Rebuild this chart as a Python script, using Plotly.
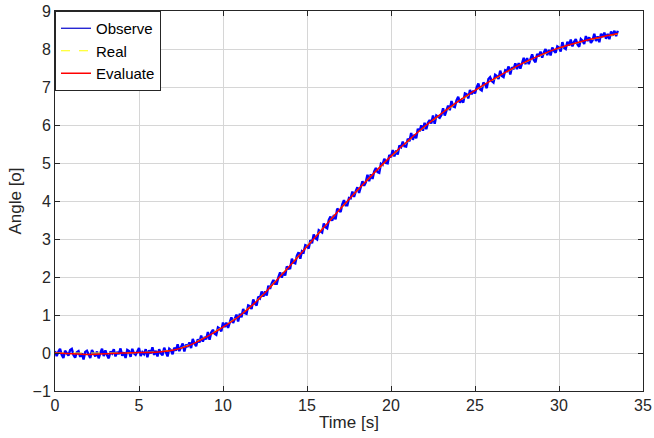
import numpy as np
import plotly.graph_objects as go

# Observed (noisy) angle, sampled every 0.1 s from 0 to 33.5 s
t_obs = np.round(np.arange(0, 33.55, 0.1), 2)
observe = [
    0.05,-0.08,0.03,0.11,-0.05,-0.13,0.06,-0.01,-0.07,0.08,
    0.11,-0.05,-0.12,0.02,0.05,-0.10,-0.01,-0.17,0.03,0.06,
    -0.06,-0.13,0.08,-0.03,-0.09,0.04,-0.14,0.00,0.11,-0.08,
    0.07,-0.06,-0.14,0.04,-0.01,0.10,-0.09,0.03,-0.03,0.12,
    -0.07,0.02,-0.13,0.08,0.05,-0.10,0.11,-0.01,-0.05,0.04,
    0.13,-0.08,0.02,-0.03,0.10,-0.11,0.07,-0.01,0.15,-0.05,
    0.06,-0.09,0.10,-0.01,-0.06,0.14,0.03,-0.09,0.11,0.07,
    -0.03,0.14,0.06,0.23,0.05,0.16,0.25,0.04,0.22,0.16,
    0.28,0.13,0.37,0.25,0.18,0.36,0.28,0.46,0.30,0.42,
    0.36,0.55,0.35,0.54,0.61,0.51,0.48,0.67,0.64,0.57,
    0.80,0.68,0.80,0.66,0.83,0.94,0.79,0.88,1.01,0.83,
    1.03,0.94,1.16,1.05,1.03,1.25,1.23,1.16,1.41,1.30,
    1.25,1.48,1.44,1.62,1.48,1.62,1.51,1.77,1.69,1.83,
    1.92,1.82,1.82,2.00,2.12,1.98,2.12,2.04,2.28,2.22,
    2.23,2.48,2.38,2.36,2.56,2.65,2.48,2.68,2.65,2.84,
    2.82,2.75,2.97,2.89,3.12,3.02,2.99,3.23,3.20,3.17,
    3.41,3.31,3.28,3.50,3.59,3.48,3.63,3.52,3.80,3.74,
    3.71,3.91,4.02,3.89,3.89,4.08,4.07,4.25,4.11,4.25,
    4.36,4.21,4.38,4.52,4.40,4.49,4.69,4.52,4.70,4.58,
    4.78,4.87,4.76,4.74,4.98,4.95,5.11,5.00,4.99,5.21,
    5.15,5.34,5.17,5.33,5.22,5.46,5.42,5.56,5.44,5.43,
    5.64,5.57,5.79,5.61,5.75,5.65,5.90,5.83,5.99,5.85,
    6.06,5.89,6.06,6.13,6.04,6.25,6.03,6.25,6.22,6.19,
    6.26,6.44,6.25,6.41,6.51,6.39,6.63,6.49,6.47,6.65,
    6.74,6.59,6.66,6.59,6.83,6.81,6.70,6.92,6.81,6.90,
    6.83,6.99,7.09,6.94,6.91,7.12,7.07,6.97,7.21,7.26,
    7.16,7.12,7.32,7.29,7.21,7.43,7.29,7.26,7.44,7.42,
    7.54,7.33,7.52,7.47,7.62,7.47,7.63,7.48,7.63,7.77,
    7.60,7.76,7.60,7.72,7.86,7.71,7.65,7.87,7.81,7.93,
    7.77,7.91,8.00,7.84,7.98,7.83,8.04,7.95,7.90,8.07,
    8.04,7.93,8.18,8.03,8.00,8.19,8.09,8.25,8.07,8.19,
    8.26,8.12,8.06,8.26,8.22,8.13,8.34,8.21,8.31,8.16,
    8.23,8.40,8.21,8.33,8.18,8.40,8.32,8.43,8.27,8.40,
    8.26,8.46,8.35,8.48,8.34,8.48,
]

# Real and evaluated angle at 1 s nodes
t_nodes = [0, 1, 2, 3, 4, 5, 6, 7, 8, 9, 10, 11, 12, 13, 14, 15, 16, 17, 18,
           19, 20, 21, 22, 23, 24, 25, 26, 27, 28, 29, 30, 31, 32, 33, 33.5]
real = [0.00, 0.00, 0.00, 0.00, 0.00, 0.01, 0.03, 0.08, 0.21, 0.43, 0.69, 0.99,
        1.37, 1.83, 2.31, 2.81, 3.31, 3.80, 4.28, 4.74, 5.17, 5.57, 5.95, 6.29,
        6.61, 6.90, 7.17, 7.42, 7.65, 7.85, 8.02, 8.15, 8.26, 8.35, 8.40]
evaluate = [0.00, -0.02, -0.04, -0.02, 0.00, 0.01, 0.02, 0.07, 0.20, 0.42, 0.68,
            0.98, 1.36, 1.82, 2.30, 2.80, 3.30, 3.80, 4.28, 4.74, 5.18, 5.58,
            5.96, 6.30, 6.62, 6.91, 7.18, 7.43, 7.66, 7.86, 8.03, 8.16, 8.27,
            8.36, 8.41]

x_ticks = [0, 5, 10, 15, 20, 25, 30, 35]
y_ticks = [-1, 0, 1, 2, 3, 4, 5, 6, 7, 8, 9]

font_family = "Liberation Sans, Arial, Helvetica, sans-serif"

fig = go.Figure()
# legend entry for Observe (thin line, as in the original legend)
fig.add_trace(go.Scatter(x=[None], y=[None], mode="lines", name="Observe",
                         line=dict(color="#0000cc", width=1.2)))
fig.add_trace(go.Scatter(x=t_obs, y=observe, mode="lines", name="Observe",
                         showlegend=False,
                         line=dict(color="#0000ff", width=2.4)))
fig.add_trace(go.Scatter(x=t_nodes, y=real, mode="lines", name="Real",
                         line=dict(color="#ffff00", width=1.2, dash="dash", shape="spline")))
fig.add_trace(go.Scatter(x=t_nodes, y=evaluate, mode="lines", name="Evaluate",
                         line=dict(color="#ff0000", width=1.5, shape="spline")))

axis_common = dict(
    showline=True, linecolor="#262626", linewidth=1, mirror="ticks",
    ticks="inside", ticklen=5, tickcolor="#262626",
    showgrid=True, gridcolor="#d6d6d6", gridwidth=1.2,
    zeroline=False, automargin=False,
    tickfont=dict(family=font_family, size=16, color="#262626"),
)

fig.update_layout(
    width=654, height=438,
    margin=dict(l=55, r=11, t=11, b=47),
    paper_bgcolor="white", plot_bgcolor="white",
    font=dict(family=font_family, size=16, color="#262626"),
    xaxis=dict(range=[0, 35], tickvals=x_ticks,
               title=dict(text="Time [s]", font=dict(size=17), standoff=2),
               **axis_common),
    yaxis=dict(range=[-1, 9], tickvals=y_ticks,
               title=dict(text="Angle [o]", font=dict(size=17), standoff=6),
               **axis_common),
    legend=dict(x=0, y=1, xanchor="left", yanchor="top",
                bgcolor="white", bordercolor="#262626", borderwidth=1,
                font=dict(family=font_family, size=15, color="black"),
                tracegroupgap=0),
    showlegend=True,
)

fig.write_html("out.html")
